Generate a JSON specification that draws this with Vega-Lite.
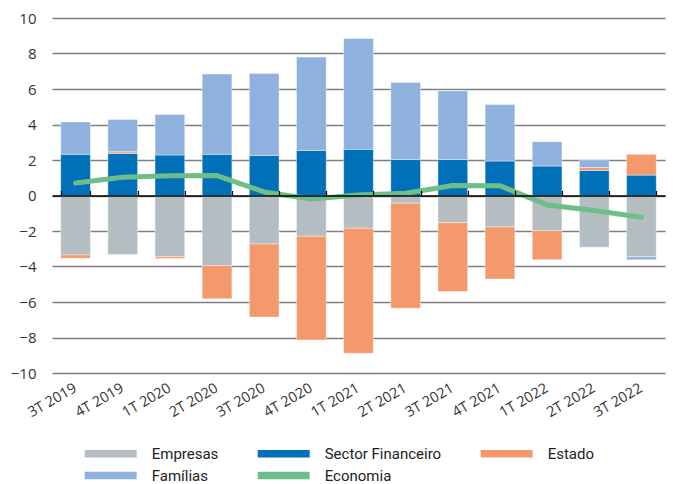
{
  "$schema": "https://vega.github.io/schema/vega-lite/v6.json",
  "width": 613,
  "height": 355,
  "autosize": "none",
  "padding": {"left": 52, "top": 18, "right": 11, "bottom": 111},
  "background": "white",
  "config": {
    "view": {"stroke": null},
    "font": "Open Sans",
    "axis": {"labelFont": "Open Sans", "labelColor": "#333333", "labelFontSize": 14},
    "axisY": {"labelOverlap": false, "labelBound": false}
  },
  "datasets": {
    "barras": [
      {"q": "3T 2019", "serie": "Empresas", "valor": -3.35},
      {"q": "3T 2019", "serie": "Sector Financeiro", "valor": 2.32},
      {"q": "3T 2019", "serie": "Estado", "valor": -0.19},
      {"q": "3T 2019", "serie": "Famílias", "valor": 1.82},
      {"q": "4T 2019", "serie": "Empresas", "valor": -3.32},
      {"q": "4T 2019", "serie": "Sector Financeiro", "valor": 2.37},
      {"q": "4T 2019", "serie": "Estado", "valor": 0.1},
      {"q": "4T 2019", "serie": "Famílias", "valor": 1.81},
      {"q": "1T 2020", "serie": "Empresas", "valor": -3.45},
      {"q": "1T 2020", "serie": "Sector Financeiro", "valor": 2.28},
      {"q": "1T 2020", "serie": "Estado", "valor": -0.1},
      {"q": "1T 2020", "serie": "Famílias", "valor": 2.28},
      {"q": "2T 2020", "serie": "Empresas", "valor": -3.95},
      {"q": "2T 2020", "serie": "Sector Financeiro", "valor": 2.32},
      {"q": "2T 2020", "serie": "Estado", "valor": -1.87},
      {"q": "2T 2020", "serie": "Famílias", "valor": 4.52},
      {"q": "3T 2020", "serie": "Empresas", "valor": -2.73},
      {"q": "3T 2020", "serie": "Sector Financeiro", "valor": 2.26},
      {"q": "3T 2020", "serie": "Estado", "valor": -4.12},
      {"q": "3T 2020", "serie": "Famílias", "valor": 4.62},
      {"q": "4T 2020", "serie": "Empresas", "valor": -2.3},
      {"q": "4T 2020", "serie": "Sector Financeiro", "valor": 2.54},
      {"q": "4T 2020", "serie": "Estado", "valor": -5.84},
      {"q": "4T 2020", "serie": "Famílias", "valor": 5.26},
      {"q": "1T 2021", "serie": "Empresas", "valor": -1.85},
      {"q": "1T 2021", "serie": "Sector Financeiro", "valor": 2.6},
      {"q": "1T 2021", "serie": "Estado", "valor": -7.04},
      {"q": "1T 2021", "serie": "Famílias", "valor": 6.25},
      {"q": "2T 2021", "serie": "Empresas", "valor": -0.43},
      {"q": "2T 2021", "serie": "Sector Financeiro", "valor": 2.03},
      {"q": "2T 2021", "serie": "Estado", "valor": -5.92},
      {"q": "2T 2021", "serie": "Famílias", "valor": 4.34},
      {"q": "3T 2021", "serie": "Empresas", "valor": -1.53},
      {"q": "3T 2021", "serie": "Sector Financeiro", "valor": 2.03},
      {"q": "3T 2021", "serie": "Estado", "valor": -3.88},
      {"q": "3T 2021", "serie": "Famílias", "valor": 3.86},
      {"q": "4T 2021", "serie": "Empresas", "valor": -1.77},
      {"q": "4T 2021", "serie": "Sector Financeiro", "valor": 1.94},
      {"q": "4T 2021", "serie": "Estado", "valor": -2.94},
      {"q": "4T 2021", "serie": "Famílias", "valor": 3.18},
      {"q": "1T 2022", "serie": "Empresas", "valor": -1.98},
      {"q": "1T 2022", "serie": "Sector Financeiro", "valor": 1.66},
      {"q": "1T 2022", "serie": "Estado", "valor": -1.64},
      {"q": "1T 2022", "serie": "Famílias", "valor": 1.37},
      {"q": "2T 2022", "serie": "Empresas", "valor": -2.92},
      {"q": "2T 2022", "serie": "Sector Financeiro", "valor": 1.41},
      {"q": "2T 2022", "serie": "Estado", "valor": 0.17},
      {"q": "2T 2022", "serie": "Famílias", "valor": 0.43},
      {"q": "3T 2022", "serie": "Empresas", "valor": -3.45},
      {"q": "3T 2022", "serie": "Sector Financeiro", "valor": 1.15},
      {"q": "3T 2022", "serie": "Estado", "valor": 1.17},
      {"q": "3T 2022", "serie": "Famílias", "valor": -0.17}
    ],
    "ordem": [
      {"serie": "Empresas", "ordem": 0},
      {"serie": "Sector Financeiro", "ordem": 1},
      {"serie": "Estado", "ordem": 2},
      {"serie": "Famílias", "ordem": 3}
    ],
    "economia": [
      {"q": "3T 2019", "serie": "Economia", "valor": 0.7},
      {"q": "4T 2019", "serie": "Economia", "valor": 1.03},
      {"q": "1T 2020", "serie": "Economia", "valor": 1.11},
      {"q": "2T 2020", "serie": "Economia", "valor": 1.12},
      {"q": "3T 2020", "serie": "Economia", "valor": 0.2},
      {"q": "4T 2020", "serie": "Economia", "valor": -0.2},
      {"q": "1T 2021", "serie": "Economia", "valor": 0.03},
      {"q": "2T 2021", "serie": "Economia", "valor": 0.13},
      {"q": "3T 2021", "serie": "Economia", "valor": 0.56},
      {"q": "4T 2021", "serie": "Economia", "valor": 0.55},
      {"q": "1T 2022", "serie": "Economia", "valor": -0.53},
      {"q": "2T 2022", "serie": "Economia", "valor": -0.85},
      {"q": "3T 2022", "serie": "Economia", "valor": -1.22}
    ]
  },
  "resolve": {"axis": {"x": "independent"}},
  "layer": [
    {
      "data": {"name": "barras"},
      "transform": [
        {"lookup": "serie", "from": {"data": {"name": "ordem"}, "key": "serie", "fields": ["ordem"]}}
      ],
      "mark": {"type": "bar", "stroke": "#ffffff", "strokeWidth": 0.8, "strokeOpacity": 0.5},
      "encoding": {
        "x": {
          "field": "q", "type": "nominal", "sort": null,
          "scale": {"paddingInner": 0.37, "paddingOuter": 0.185},
          "axis": {
            "orient": "bottom", "title": null, "domain": false, "ticks": false, "grid": false,
            "labelAngle": -30, "labelAlign": "right", "labelBaseline": "middle", "labelPadding": 14,
            "labelFontSize": 14.5
          }
        },
        "y": {
          "field": "valor", "type": "quantitative", "stack": "zero",
          "scale": {"domain": [-10, 10], "nice": false},
          "axis": {
            "title": null, "values": [-10, -8, -6, -4, -2, 0, 2, 4, 6, 8, 10],
            "domain": false, "ticks": false, "grid": true, "gridColor": "#7f7f7f", "gridWidth": 1.3,
            "labelPadding": 16, "labelFontSize": 15, "labelOverlap": false
          }
        },
        "order": {"field": "ordem", "type": "quantitative"},
        "color": {
          "field": "serie", "type": "nominal",
          "scale": {
            "domain": ["Empresas", "Sector Financeiro", "Estado", "Famílias", "Economia"],
            "range": ["#b4bec2", "#0070b8", "#f3996b", "#8eb1dd", "#6fbe89"]
          },
          "legend": {
            "title": null, "orient": "none", "legendX": 30.7, "legendY": 428,
            "direction": "horizontal", "columns": 3, "columnPadding": 37, "rowPadding": 6,
            "symbolType": "M-1,-0.7H8.45V0.7H-1Z", "symbolSize": 121, "symbolStrokeWidth": 0,
            "labelFont": "Roboto", "labelFontSize": 15, "labelColor": "#222222", "labelOffset": 54,
            "encode": {
              "symbols": {
                "update": {
                  "shape": {"signal": "datum.value === 'Economia' ? 'M-0.55,-0.45H8.0A0.45,0.45 0 0 1 8.0,0.45H-0.55A0.45,0.45 0 0 1 -0.55,-0.45Z' : 'M-1,-0.7H8.45V0.7H-1Z'"},
                  "fill": {"signal": "scale('color', datum.value)"},
                  "strokeWidth": {"value": 0},
                  "opacity": {"value": 1}
                }
              }
            }
          }
        }
      }
    },
    {
      "data": {"name": "economia"},
      "mark": {"type": "line", "strokeWidth": 5, "strokeCap": "round", "strokeJoin": "round"},
      "encoding": {
        "x": {
          "field": "q", "type": "nominal", "sort": null,
          "axis": {
            "orient": "top", "offset": -177.5, "title": null, "labels": false, "grid": false,
            "domainColor": "#000000", "domainWidth": 1.5, "tickColor": "#000000", "tickWidth": 1.2,
            "tickSize": 5, "tickBand": "extent", "zindex": 1
          }
        },
        "y": {
          "field": "valor", "type": "quantitative",
          "axis": {
            "title": null, "values": [-10, -8, -6, -4, -2, 0, 2, 4, 6, 8, 10],
            "domain": false, "ticks": false, "grid": true, "gridColor": "#7f7f7f", "gridWidth": 1.3,
            "labelPadding": 16, "labelFontSize": 15, "labelOverlap": false
          }
        },
        "color": {"field": "serie", "type": "nominal"}
      }
    }
  ]
}
